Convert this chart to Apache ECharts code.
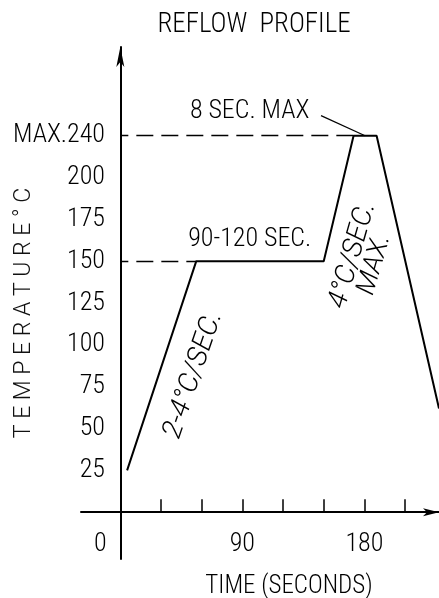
<!DOCTYPE html>
<html>
<head>
<meta charset="utf-8">
<title>Reflow Profile</title>
<script src="https://cdn.jsdelivr.net/npm/echarts@6.0.0/dist/echarts.min.js"></script>
<style>
  html, body { margin: 0; padding: 0; background: #fff; }
  #chart { width: 439px; height: 598px; }
</style>
</head>
<body>
<div id="chart"></div>
<script>
// Reflow soldering profile: time in seconds against temperature in °C.
const profileTime = [5, 56, 150, 172, 189, 235];
const profileTemp = [25, 150, 150, 240, 240, 62];

// Tick marks and labels of both axes.
const tempTicks = [25, 50, 75, 100, 125, 150, 175, 200, 240];
const timeTicks = [30, 60, 90, 120, 150, 180, 210];
const timeLabels = [0, 90, 180];

const soakTemp = profileTemp[1];
const peakTemp = profileTemp[3];

const narrowFont = '"Roboto Condensed", "DejaVu Sans Condensed", sans-serif';
const plainFont = 'Roboto, "DejaVu Sans", sans-serif';
const ink = '#000';

const chart = echarts.init(document.getElementById('chart'), null, { renderer: 'canvas' });

const profile = profileTime.map((t, i) => [t, profileTemp[i]]);
const peakMid = (profileTime[3] + profileTime[4]) / 2;

// A text note anchored at a data coordinate.
function note(text, coord, rotate, font, size, style) {
  return {
    coord: coord,
    symbol: 'circle',
    symbolSize: 0,
    itemStyle: { color: 'transparent' },
    label: {
      show: true,
      position: 'inside',
      formatter: text,
      rotate: rotate,
      color: ink,
      fontFamily: font,
      fontSize: size,
      fontWeight: 300,
      fontStyle: style || 'normal'
    }
  };
}

const dashed = { type: [17, 8], dashOffset: 9, color: ink, width: 1.4 };

chart.setOption({
  animation: false,
  backgroundColor: '#fff',
  title: {
    text: 'REFLOW  PROFILE',
    left: 249,
    textAlign: 'center',
    top: 7,
    textStyle: { fontFamily: narrowFont, fontSize: 27, fontWeight: 300, color: ink }
  },
  grid: { left: 81, right: 0, top: 47, bottom: 39, containLabel: false, outerBoundsMode: 'none' },
  xAxis: {
    type: 'value',
    min: -29,
    max: 235,
    splitLine: { show: false },
    axisLine: {
      onZero: true,
      symbol: ['none', 'arrow'],
      symbolSize: [6, 16],
      lineStyle: { color: ink, width: 2 }
    },
    axisTick: {
      show: true,
      inside: true,
      length: 13,
      customValues: timeTicks,
      lineStyle: { color: ink, width: 1.5 }
    },
    axisLabel: {
      customValues: timeLabels,
      margin: -28,
      color: ink,
      fontFamily: narrowFont,
      fontSize: 26,
      fontWeight: 300,
      formatter: v => (v === 0 ? '{o|0}' : String(v)),
      rich: { o: { padding: [0, 40, 0, 0], fontFamily: narrowFont, fontSize: 26, fontWeight: 300, color: ink } }
    },
    name: 'TIME (SECONDS)',
    nameLocation: 'middle',
    nameGap: 15,
    nameMoveOverlap: false,
    nameTextStyle: { fontFamily: narrowFont, fontSize: 25, fontWeight: 300, color: ink, padding: [0, 0, 0, 58] }
  },
  yAxis: {
    type: 'value',
    min: -28,
    max: 293,
    breaks: [{ start: 225, end: 240, gap: 0 }],
    breakArea: { show: false },
    splitLine: { show: false },
    axisLine: {
      show: true,
      onZero: true,
      symbol: ['none', 'arrow'],
      symbolSize: [6, 20],
      lineStyle: { color: ink, width: 2 }
    },
    axisTick: { show: false },
    axisLabel: {
      customValues: tempTicks,
      margin: -24,
      color: ink,
      fontFamily: narrowFont,
      fontSize: 26,
      fontWeight: 300,
      formatter: v => (v === peakTemp ? 'MAX.' + v : String(v))
    },
    name: 'T E M P E R A T U R E ° C',
    nameLocation: 'middle',
    nameRotate: 90,
    nameGap: 45,
    nameMoveOverlap: false,
    nameTextStyle: { fontFamily: plainFont, fontSize: 23, fontWeight: 300, color: '#111', padding: [0, 20, 0, 0] }
  },
  series: [{
    type: 'line',
    name: 'Reflow profile',
    data: profile,
    symbol: 'none',
    clip: false,
    lineStyle: { color: ink, width: 2 },
    markLine: {
      silent: true,
      symbol: ['none', 'none'],
      label: { show: false },
      animation: false,
      data: [
        [{ coord: [0, soakTemp], lineStyle: dashed }, { coord: [profileTime[1], soakTemp] }],
        [{ coord: [0, peakTemp], lineStyle: dashed }, { coord: [profileTime[3], peakTemp] }],
        [{ coord: [148, 252], lineStyle: { type: 'solid', color: ink, width: 1.2 } }, { coord: [peakMid, peakTemp] }]
      ]
    },
    markPoint: {
      silent: true,
      animation: false,
      data: [
        note('8 SEC. MAX', [95.4, 254.5], 0, narrowFont, 26),
        note('90-120 SEC.', [95.4, 163], 0, narrowFont, 26),
        note('2-4°C/SEC.', [54, 82], 71, plainFont, 28, 'italic'),
        note('4°C/SEC.', [171.5, 153.5], 74, plainFont, 28, 'italic'),
        note('MAX.', [187.5, 147.9], 74, plainFont, 27, 'italic')
      ]
    }
  }]
});
</script>
</body>
</html>
